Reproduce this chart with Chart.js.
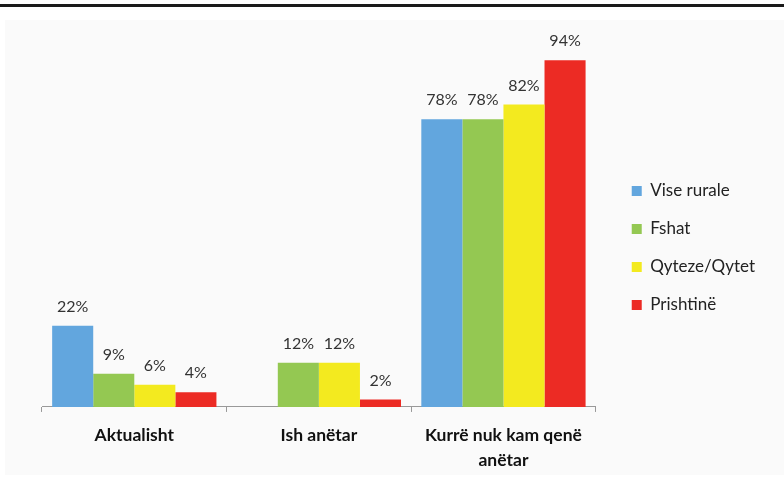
<!DOCTYPE html>
<html>
<head>
<meta charset="utf-8">
<script src="https://cdn.jsdelivr.net/npm/chart.js@4"></script>
<style>
  body { margin: 0; background: #fff; width: 784px; height: 488px; position: relative; overflow: hidden; }
  .topline { position: absolute; left: 0; top: 4px; width: 784px; height: 3px; background: #1a1a1a; }
  .panel { position: absolute; left: 5px; top: 20px; width: 779px; height: 455px; background: #fafafa; }
  .wrap { position: absolute; left: 5px; top: 20px; width: 779px; height: 464px; }
</style>
</head>
<body>
<div class="topline"></div>
<div class="panel"></div>
<div class="wrap"><canvas id="chart"></canvas></div>
<script>
'use strict'
const categories = ['Aktualisht', 'Ish anëtar', ['Kurrë nuk kam qenë', 'anëtar']];
const seriesNames = ['Vise rurale', 'Fshat', 'Qyteze/Qytet', 'Prishtinë'];
const viseRurale = [22, null, 78];
const fshat = [9, 12, 78];
const qyteze = [6, 12, 82];
const prishtine = [4, 2, 94];
const colors = ['#62a6de', '#94c852', '#f3ea1f', '#ec2b24'];

// percent labels above every bar
const labelPlugin = {
    id: 'barLabels',
    afterDatasetsDraw(chart) {
        const ctx = chart.ctx;
        ctx.save();
        ctx.font = '16px Lato';
        ctx.fillStyle = '#333';
        ctx.textAlign = 'center';
        ctx.textBaseline = 'middle';
        chart.data.datasets.forEach((ds, i) => {
            chart.getDatasetMeta(i).data.forEach((bar, j) => {
                if (ds.data[j] == null) return;
                ctx.fillText(ds.data[j] + '%', bar.x, bar.y - 19);
            });
        });
        ctx.restore();
    }
};

// leave a wider gap between the plot and the legend, and lift it a little
const legendShift = {
    id: 'legendShift',
    afterLayout(chart) {
        chart.legend.left += 15;
        chart.legend.right += 15;
        chart.legend.top -= 13;
        chart.legend.bottom -= 13;
    }
};

const values = [viseRurale, fshat, qyteze, prishtine];
new Chart(document.getElementById('chart'), {
    type: 'bar',
    data: {
        labels: categories,
        datasets: seriesNames.map((name, i) => ({
            label: name,
            data: values[i],
            backgroundColor: colors[i],
            barPercentage: 1,
            categoryPercentage: 0.89
        }))
    },
    options: {
        responsive: true,
        maintainAspectRatio: false,
        animation: false,
        layout: { padding: { left: 37, right: 34, top: 18, bottom: 0 } },
        plugins: {
            tooltip: { enabled: false },
            legend: {
                position: 'right',
                align: 'center',
                labels: {
                    boxWidth: 10,
                    boxHeight: 10,
                    padding: 21,
                    color: '#222',
                    font: { family: 'Lato', size: 17 }
                }
            }
        },
        scales: {
            x: {
                border: { display: true, color: '#999' },
                grid: { offset: true, drawOnChartArea: false, drawTicks: true, tickLength: 5, color: '#999' },
                ticks: { color: '#111', padding: 11, font: { family: 'Lato', size: 17.5, weight: 'bold', lineHeight: 1.43 } }
            },
            y: {
                display: false,
                min: 0,
                max: 100
            }
        }
    },
    plugins: [labelPlugin, legendShift]
});
</script>
</body>
</html>
